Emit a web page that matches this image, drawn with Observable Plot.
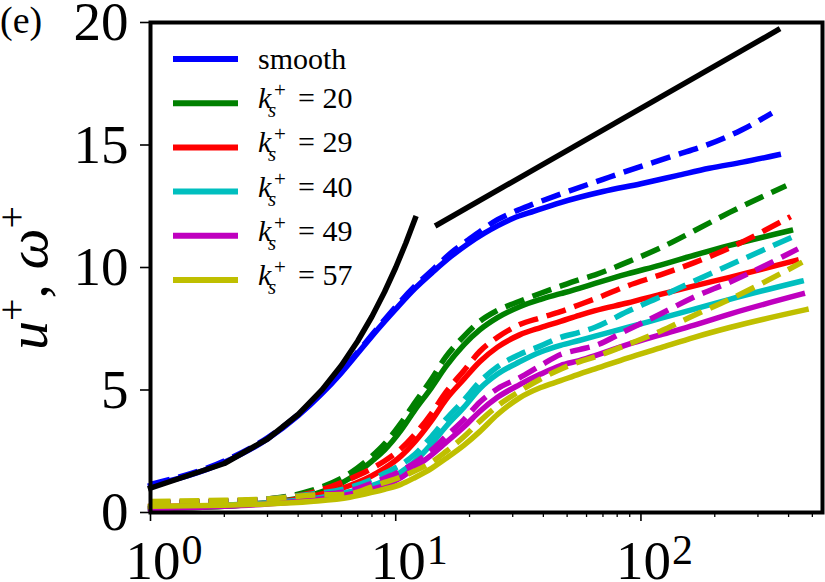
<!DOCTYPE html>
<html>
<head>
<meta charset="utf-8">
<script src="https://cdn.jsdelivr.net/npm/d3@7"></script>
<script src="https://cdn.jsdelivr.net/npm/@observablehq/plot@0.6"></script>
<style>
  html, body { margin: 0; padding: 0; background: #fff; }
  #chart { width: 825px; height: 582px; overflow: hidden; }
</style>
</head>
<body>
<div id="chart"></div>
<script>
// Mean velocity u+ (solid) and omega+ (dashed) against wall distance y+

// Linear sublayer u+ = y+ and log law reference lines
const viscousYPlus = [1, 2, 3, 4, 5, 6, 7, 8, 9, 10, 11, 12];
const viscousU = [1, 2, 3, 4, 5, 6, 7, 8, 9, 10, 11, 12];
const logLawYPlus = [14.8, 361];
const logLawU = [11.75, 19.69];

// Smooth wall
const smoothYPlus = [1, 2, 3, 4, 5, 6, 7, 8, 10, 12, 14.3, 16.8, 19.6, 23, 26, 30, 36.7, 47, 70, 100, 140, 190, 260, 363];
const smoothU = [1.1, 2.05, 3.0, 3.95, 4.85, 5.7, 6.5, 7.2, 8.3, 9.15, 9.85, 10.45, 10.95, 11.4, 11.7, 12.0, 12.3, 12.65, 13.1, 13.42, 13.75, 14.05, 14.3, 14.6];
const smoothOmegaYPlus = [1, 2, 3, 4, 5, 6, 7, 8, 10, 12, 14.3, 16.8, 19.6, 23, 26, 30, 36.7, 47, 70, 103, 140, 180, 256, 342];
const smoothOmega = [1.15, 2.1, 3.05, 4.0, 4.9, 5.75, 6.55, 7.25, 8.4, 9.25, 9.95, 10.6, 11.1, 11.6, 11.95, 12.25, 12.6, 13.0, 13.6, 14.17, 14.6, 14.95, 15.6, 16.3];

// Rough walls, sampled on a common y+ grid plus each profile's last point
const roughYPlus = [1, 2, 3, 4.5, 6.5, 8, 9, 10.5, 12, 14, 16, 19, 22, 26, 32, 39, 47, 56, 65, 88, 120, 165, 230];
const ksValues = [20, 29, 40, 49, 57];
const roughEndYPlusU = [407, 429, 450, 455, 471];
const roughEndYPlusOmega = [391, 408, 437, 437, 455];

const uKs20 = [0.15, 0.25, 0.4, 0.7, 1.4, 2.1, 2.55, 3.35, 4.2, 5.1, 5.95, 6.85, 7.45, 7.95, 8.4, 8.7, 8.93, 9.15, 9.35, 9.74, 10.1, 10.5, 10.9, 11.51];
const omegaKs20 = [0.4, 0.45, 0.55, 0.89, 1.6, 2.3, 2.8, 3.65, 4.5, 5.45, 6.35, 7.2, 7.8, 8.25, 8.62, 8.95, 9.24, 9.5, 9.7, 10.22, 10.8, 11.5, 12.25, 13.34];
const uKs29 = [0.25, 0.3, 0.4, 0.65, 1.1, 1.5, 1.8, 2.3, 2.9, 3.75, 4.6, 5.45, 6.15, 6.75, 7.25, 7.55, 7.8, 8.05, 8.24, 8.55, 8.9, 9.25, 9.6, 10.29];
const omegaKs29 = [0.4, 0.45, 0.55, 0.8, 1.37, 1.8, 2.1, 2.6, 3.2, 4.05, 4.9, 5.8, 6.57, 7.15, 7.67, 7.95, 8.2, 8.48, 8.72, 9.25, 9.7, 10.2, 10.8, 12.08];
const uKs40 = [0.2, 0.3, 0.4, 0.55, 0.85, 1.1, 1.3, 1.65, 2.1, 2.8, 3.5, 4.3, 5.05, 5.65, 6.15, 6.55, 6.82, 7.02, 7.2, 7.55, 7.92, 8.3, 8.7, 9.44];
const omegaKs40 = [0.4, 0.45, 0.55, 0.75, 1.02, 1.35, 1.6, 1.95, 2.39, 3.1, 3.8, 4.6, 5.33, 5.95, 6.45, 6.8, 7.15, 7.35, 7.56, 8.2, 8.8, 9.45, 10.1, 11.35];
const uKs49 = [0.15, 0.25, 0.35, 0.5, 0.75, 0.95, 1.1, 1.42, 1.84, 2.35, 2.85, 3.5, 4.12, 4.7, 5.22, 5.65, 6.0, 6.2, 6.4, 6.85, 7.25, 7.65, 8.1, 8.92];
const omegaKs49 = [0.4, 0.45, 0.5, 0.7, 0.89, 1.2, 1.4, 1.7, 2.04, 2.55, 3.1, 3.8, 4.5, 5.05, 5.5, 6.0, 6.45, 6.65, 6.81, 7.45, 8.1, 8.8, 9.4, 10.76];
const uKs57 = [0.25, 0.3, 0.35, 0.45, 0.62, 0.82, 0.95, 1.15, 1.43, 1.8, 2.2, 2.75, 3.3, 4.0, 4.68, 5.1, 5.38, 5.65, 5.86, 6.3, 6.72, 7.15, 7.55, 8.28];
const omegaKs57 = [0.45, 0.5, 0.55, 0.7, 0.76, 1.05, 1.23, 1.45, 1.7, 2.05, 2.48, 3.1, 3.72, 4.35, 4.95, 5.45, 5.85, 6.15, 6.35, 6.85, 7.4, 8.05, 8.7, 10.22];

const roughU = [uKs20, uKs29, uKs40, uKs49, uKs57];
const roughOmega = [omegaKs20, omegaKs29, omegaKs40, omegaKs49, omegaKs57];

// Colours and labels
const smoothColor = "#0000ff";
const roughColors = ["#008000", "#ff0000", "#00bfbf", "#bf00bf", "#bfbf00"];
const legendLabels = ["smooth", ...ksValues.map(String)];
const legendColors = [smoothColor, ...roughColors];

// Axis ticks
const xMajor = [1, 10, 100];
const xMinor = [2, 3, 4, 5, 6, 7, 8, 9, 20, 30, 40, 50, 60, 70, 80, 90, 200, 300, 400, 500];
const yTicks = [0, 5, 10, 15, 20];

const toRows = (xs, ys) => xs.map((x, i) => ({x, y: ys[i]}));

const LW = 5.5;
const DASH = "20,9";
const solid = (rows, color) => Plot.line(rows, {x: "x", y: "y", stroke: color, strokeWidth: LW, strokeLinecap: "square", strokeLinejoin: "round", curve: "monotone-x"});
const dashed = (rows, color) => Plot.line(rows, {x: "x", y: "y", stroke: color, strokeWidth: LW, strokeDasharray: DASH, strokeLinecap: "butt", strokeLinejoin: "round", curve: "monotone-x"});
const straight = (rows, color) => Plot.line(rows, {x: "x", y: "y", stroke: color, strokeWidth: LW, strokeLinecap: "square", strokeLinejoin: "round"});

const curveMarks = [
  solid(toRows(smoothYPlus, smoothU), smoothColor),
  dashed(toRows(smoothOmegaYPlus, smoothOmega), smoothColor)
];
ksValues.forEach((k, i) => {
  curveMarks.push(solid(toRows([...roughYPlus, roughEndYPlusU[i]], roughU[i]), roughColors[i]));
  curveMarks.push(dashed(toRows([...roughYPlus, roughEndYPlusOmega[i]], roughOmega[i]), roughColors[i]));
});
curveMarks.push(straight(toRows(viscousYPlus, viscousU), "#000"));
curveMarks.push(straight(toRows(logLawYPlus, logLawU), "#000"));

const svg = Plot.plot({
  width: 825,
  height: 582,
  marginLeft: 150,
  marginTop: 22,
  marginRight: 3,
  marginBottom: 70,
  style: {fontFamily: "'Liberation Serif', serif", fontSize: "55px", background: "#fff", color: "#000", overflow: "visible"},
  x: {type: "log", domain: [1, 550]},
  y: {domain: [0, 20]},
  marks: [
    ...curveMarks,
    Plot.frame({stroke: "#000", strokeWidth: 4}),
    Plot.axisY({ticks: yTicks, tickSize: 10, tickPadding: 12, fontSize: 55, strokeWidth: 1.6, label: null, tickFormat: d => String(d)}),
    Plot.axisX({ticks: xMajor, tickSize: 9, strokeWidth: 1.6, label: null, tickFormat: () => ""}),
    Plot.axisX({ticks: xMinor, tickSize: 5, strokeWidth: 1.3, label: null, tickFormat: () => ""}),
    Plot.text(xMajor, {x: d => d, text: () => "10", frameAnchor: "bottom", lineAnchor: "bottom", dy: 66, dx: 30, textAnchor: "end", fontSize: 55}),
    Plot.text(xMajor, {x: d => d, text: d => String(Math.round(Math.log10(d))), frameAnchor: "bottom", lineAnchor: "bottom", dy: 51, dx: 31, textAnchor: "start", fontSize: 42})
  ]
});

document.getElementById("chart").appendChild(svg);

const root = d3.select(svg);
const serif = "'Liberation Serif', serif";

// Panel letter
root.append("text")
  .attr("x", 0).attr("y", 33)
  .attr("text-anchor", "start")
  .attr("font-family", serif).attr("font-size", 38)
  .text("(e)");

// Y axis title: u+, ω+
const yTitle = root.append("text")
  .attr("transform", "translate(47,278) rotate(-90)")
  .attr("text-anchor", "middle")
  .attr("font-family", serif).attr("font-size", 58);
yTitle.append("tspan").attr("font-style", "italic").text("u");
yTitle.append("tspan").attr("font-size", 40).attr("dy", -22).text("+");
yTitle.append("tspan").attr("dy", 22).text(", ");
yTitle.append("tspan").attr("font-style", "italic").text("ω");
yTitle.append("tspan").attr("font-size", 40).attr("dy", -22).text("+");

// Legend
const legend = root.append("g")
  .attr("font-family", serif).attr("font-size", 30)
  .attr("text-anchor", "start");
legendLabels.forEach((label, i) => {
  const cy = 59 + i * 44.2;
  legend.append("line")
    .attr("x1", 173).attr("x2", 238).attr("y1", cy).attr("y2", cy)
    .attr("stroke", legendColors[i]).attr("stroke-width", 6);
  if (i === 0) {
    legend.append("text").attr("x", 258).attr("y", cy + 10).text(label);
  } else {
    const t = legend.append("text").attr("x", 258).attr("y", cy + 5);
    t.append("tspan").attr("font-style", "italic").text("k");
    t.append("tspan").attr("x", 274).attr("dy", -11).attr("font-size", 21).text("+");
    t.append("tspan").attr("x", 268).attr("dy", 20).attr("font-size", 21).attr("font-style", "italic").text("s");
    t.append("tspan").attr("x", 298).attr("dy", -9).text("= " + label);
  }
});
</script>
</body>
</html>
